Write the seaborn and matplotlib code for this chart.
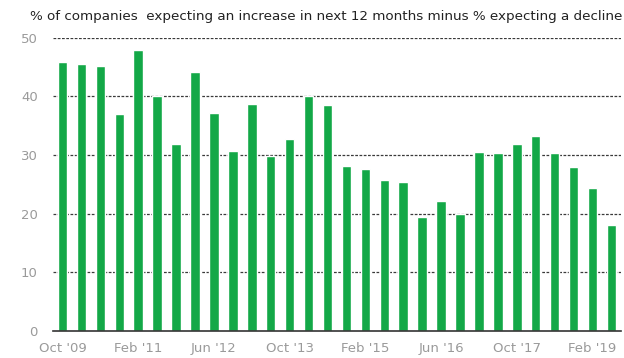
import matplotlib
matplotlib.use("Agg")
import matplotlib.pyplot as plt
import numpy as np
import pandas as pd
import seaborn as sns

# Survey periods: every four months, Oct 2009 to Jun 2019
periods = ["Oct '09", "Feb '10", "Jun '10", "Oct '10", "Feb '11", "Jun '11",
           "Oct '11", "Feb '12", "Jun '12", "Oct '12", "Feb '13", "Jun '13",
           "Oct '13", "Feb '14", "Jun '14", "Oct '14", "Feb '15", "Jun '15",
           "Oct '15", "Feb '16", "Jun '16", "Oct '16", "Feb '17", "Jun '17",
           "Oct '17", "Feb '18", "Jun '18", "Oct '18", "Feb '19", "Jun '19"]

# Net balance: % expecting an increase minus % expecting a decline
net_balance = [45.8, 45.6, 45.2, 37.0, 47.9, 40.0, 31.9, 44.1, 37.2, 30.7,
               38.7, 29.9, 32.8, 40.0, 38.5, 28.1, 27.7, 25.7, 25.4, 19.5,
               22.2, 20.0, 30.5, 30.4, 31.9, 33.2, 30.4, 27.9, 24.3, 18.0]

labelled_periods = ["Oct '09", "Feb '11", "Jun '12", "Oct '13",
                    "Feb '15", "Jun '16", "Oct '17", "Feb '19"]
y_ticks = [0, 10, 20, 30, 40, 50]

title = "% of companies  expecting an increase in next 12 months minus % expecting a decline"

df = pd.DataFrame({"period": periods, "net": net_balance})

sns.set_style("white")
plt.rcParams["font.family"] = ["DejaVu Sans"]

fig = plt.figure(figsize=(6.24, 3.58), dpi=100)
ax = fig.add_axes([0.085, 0.0754, 0.91, 0.8193])

sns.barplot(data=df, x="period", y="net", color="#13a847", saturation=1,
            width=0.5, ax=ax, zorder=3)

ax.set_xlim(-0.5, len(periods) - 0.5)
ax.set_ylim(0, 50)
ax.set_yticks(y_ticks)
ax.set_yticklabels([str(v) for v in y_ticks])

# Dashed horizontal gridlines
for v in y_ticks[1:]:
    ax.axhline(v, color="#3a3a3a", lw=0.9, ls=(0, (2.2, 1.2)), zorder=1)

# Labels every 16 months, small year-boundary ticks
label_pos = [periods.index(p) for p in labelled_periods]
ax.set_xticks(label_pos)
ax.set_xticklabels(labelled_periods)
ax.set_xticks(np.arange(-0.5, len(periods), 3), minor=True)
ax.tick_params(axis="x", which="major", length=0, pad=8, labelsize=9.5,
               labelcolor="#9a9a9a")
ax.tick_params(axis="x", which="minor", length=3.5, width=1, color="#333333",
               direction="out")
ax.tick_params(axis="y", length=0, pad=11, labelsize=9.5, labelcolor="#9a9a9a")

for side in ["left", "right", "top"]:
    ax.spines[side].set_visible(False)
ax.spines["bottom"].set_color("#333333")
ax.spines["bottom"].set_linewidth(1.2)
ax.spines["bottom"].set_zorder(4)

ax.set_xlabel("")
ax.set_ylabel("")

fig.text(0.048, 0.955, title, fontsize=9.7, color="#222222", va="center",
         ha="left")

fig.savefig("out.png", dpi=100)
